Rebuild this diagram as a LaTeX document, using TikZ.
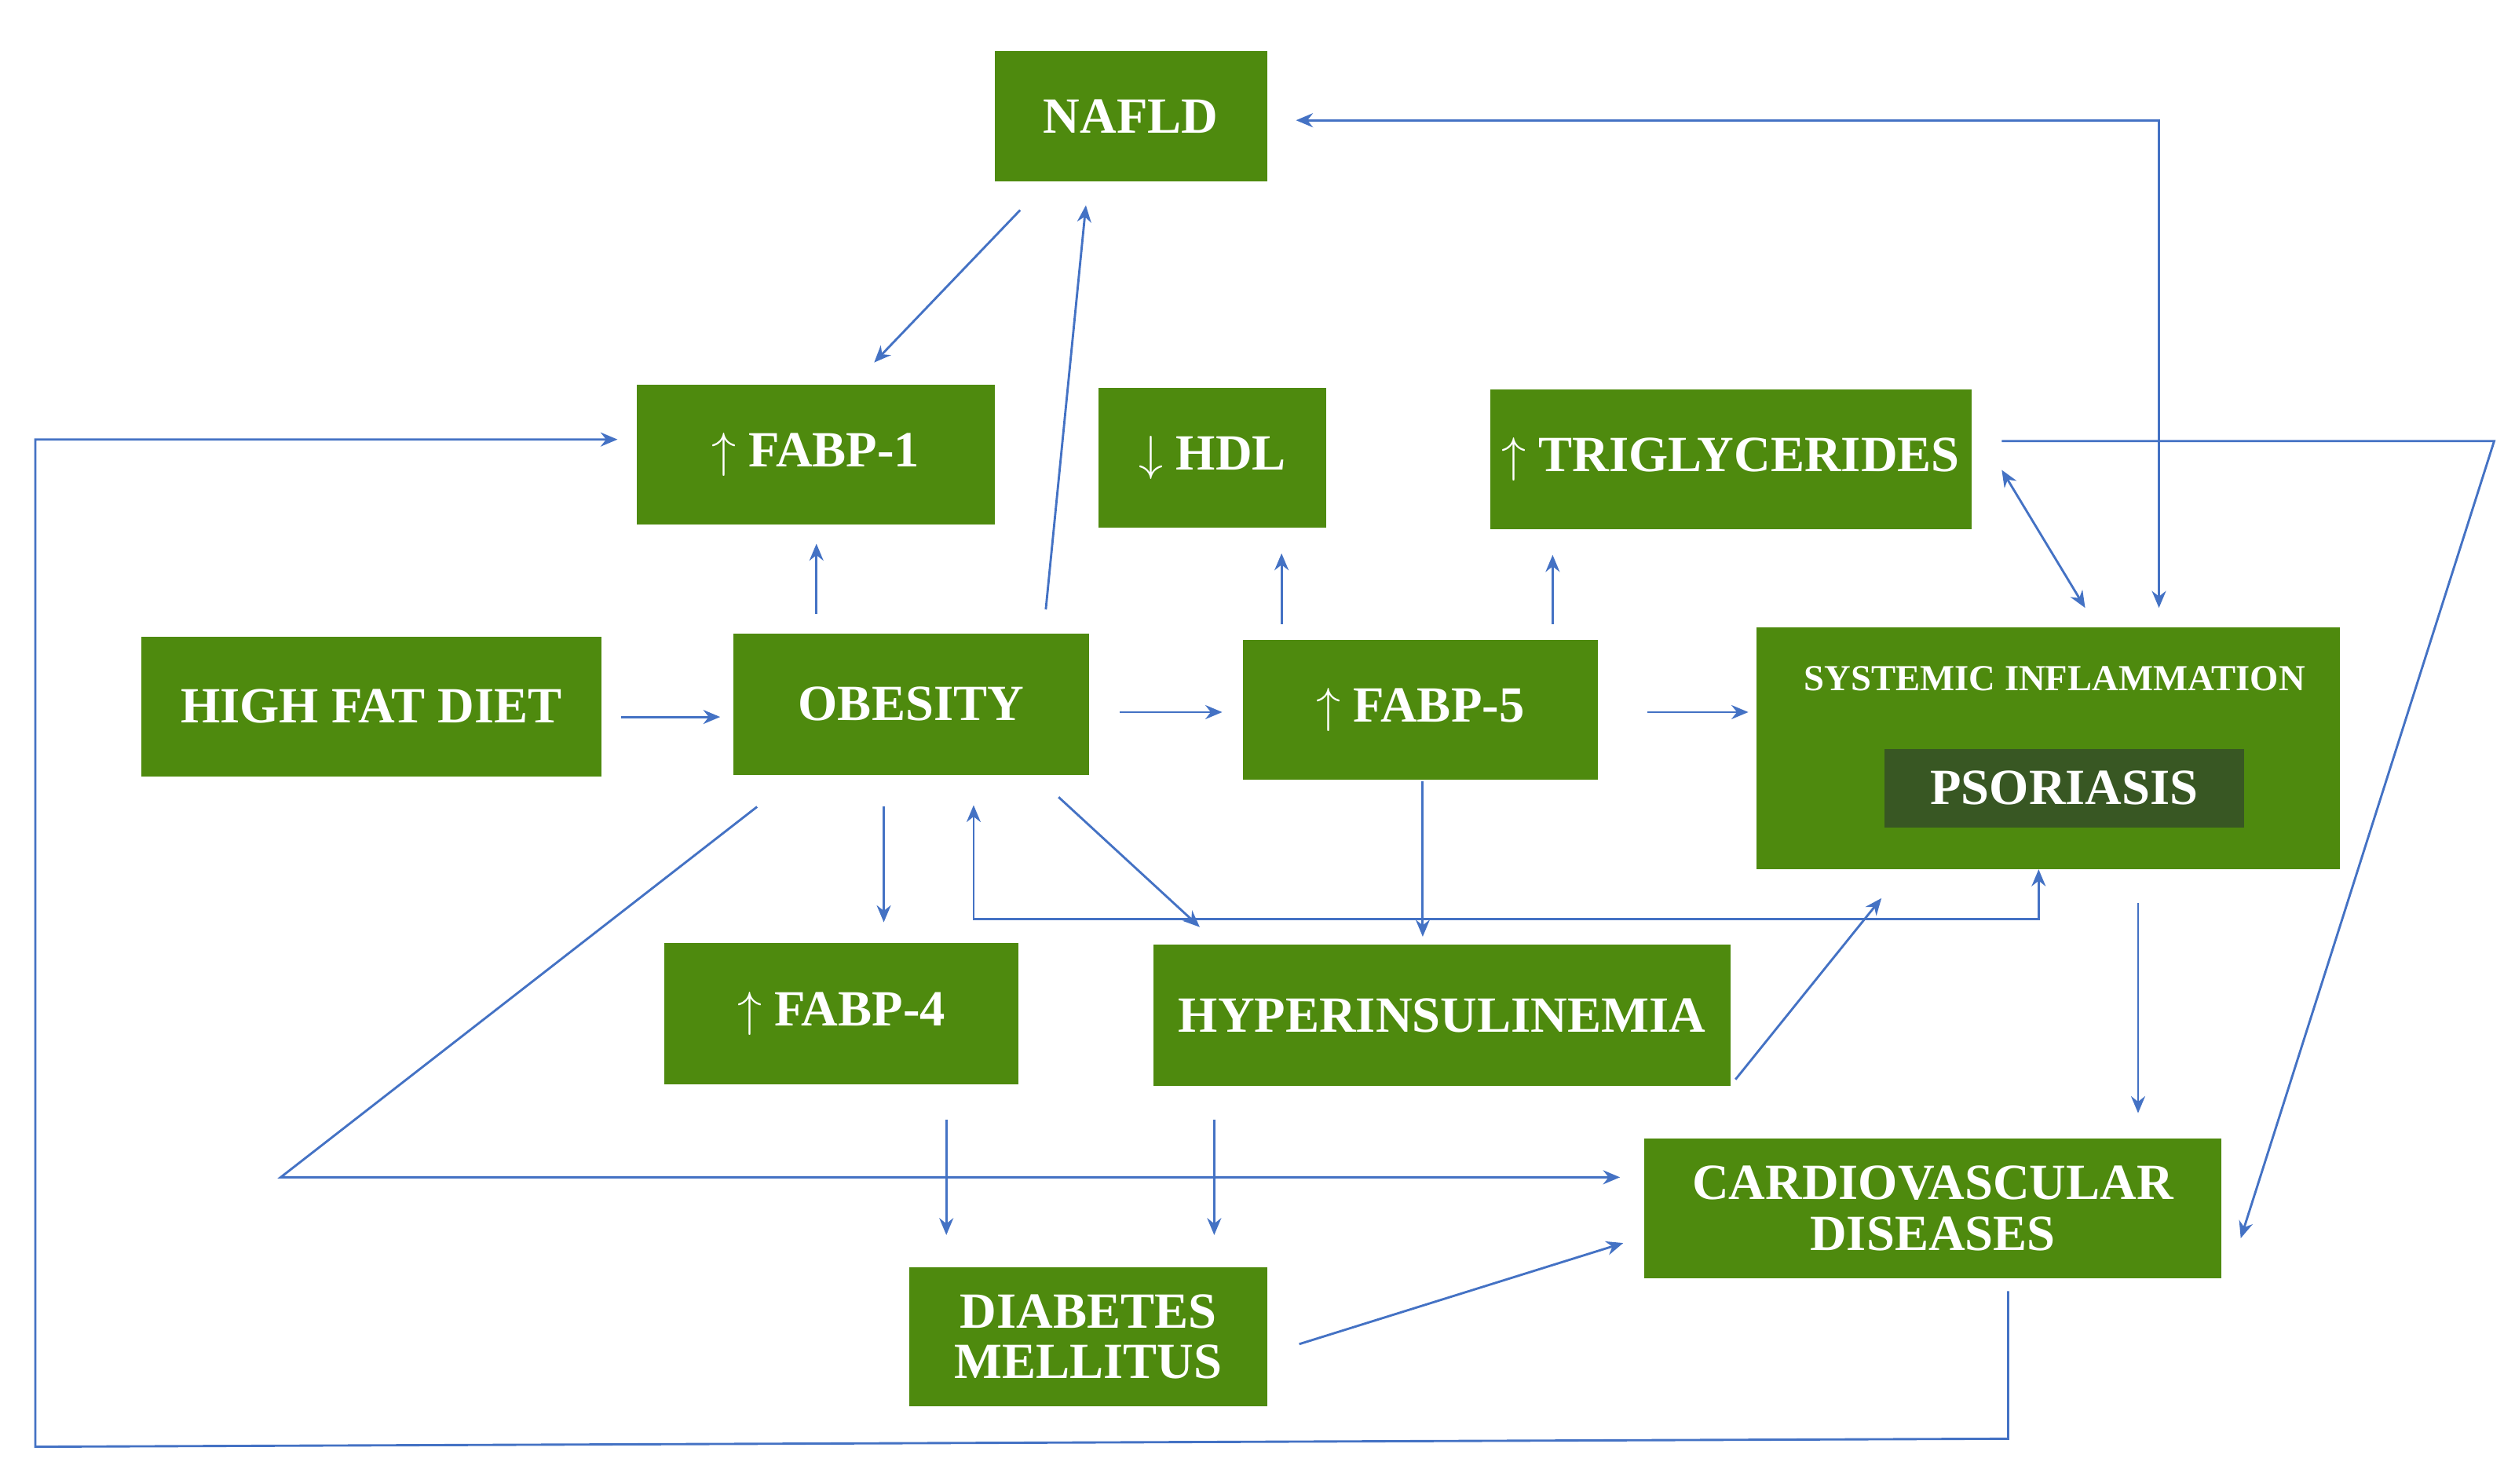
\documentclass[tikz,border=0pt]{standalone}
\usepackage{fontspec}
\setmainfont{Liberation Serif}
\usetikzlibrary{arrows.meta}
\definecolor{gbox}{HTML}{4E8A0E}
\definecolor{dbox}{HTML}{385723}
\definecolor{arr}{HTML}{4472C4}
\begin{document}
\begin{tikzpicture}[x=0.02cm,y=-0.02cm,
  bx/.style={fill=gbox,draw=none,text=white,font=\bfseries\fontsize{18}{20}\selectfont,align=center},
  ar/.style={draw=arr,line width=0.8pt,-{Stealth[length=6pt,width=5pt]}},
  ar2/.style={draw=arr,line width=0.8pt,{Stealth[length=6pt,width=5pt]}-{Stealth[length=6pt,width=5pt]}},
  ln/.style={draw=arr,line width=0.8pt}]
\useasboundingbox (0,0) rectangle (1568,925);
\newcommand{\bxx}[6]{\fill[gbox] (#1,#2) rectangle (#3,#4); \node[bx] (#5) at ({(#1+#3)/2},{(#2+#4)/2}) {#6};}
\bxx{620}{32}{790}{113}{nafld}{NAFLD}
\bxx{397}{240}{620}{327}{f1}{$\uparrow$ FABP-1}
\bxx{685}{242}{827}{329}{hdl}{$\downarrow$ HDL}
\bxx{929}{243}{1229}{330}{tg}{$\uparrow$ TRIGLYCERIDES}
\bxx{88}{397}{375}{484}{hfd}{HIGH FAT DIET}
\bxx{457}{395}{679}{483}{ob}{OBESITY}
\bxx{775}{399}{996}{486}{f5}{$\uparrow$ FABP-5}
\fill[gbox] (1095,391) rectangle (1459,542);
\node[bx,font=\bfseries\fontsize{13}{15}\selectfont] (si) at (1281,423) {SYSTEMIC INFLAMMATION};
\fill[dbox] (1175,467) rectangle (1399,516);
\node[bx,fill=none] (ps) at (1287,491) {PSORIASIS};
\bxx{414}{588}{635}{676}{f4}{$\uparrow$ FABP-4}
\bxx{719}{589}{1079}{677}{hy}{HYPERINSULINEMIA}
\bxx{1025}{710}{1385}{797}{cv}{CARDIOVASCULAR\\[-2pt]DISEASES}
\bxx{567}{790}{790}{877}{dm}{DIABETES\\[-2pt]MELLITUS}
\draw[ar] (636,131) -- (545,226);
\draw[ar] (652,380) -- (677,128);
\draw[ar] (509,383) -- (509,339);
\draw[ar] (799,389) -- (799,345);
\draw[ar] (968,389) -- (968,346);
\draw[ar] (387,447) -- (449,447);
\draw[ar] (698,444) -- (762,444);
\draw[ar] (1027,444) -- (1090,444);
\draw[ar2] (1248,293) -- (1300,379);
\draw[ar2] (1346,379) -- (1346,75) -- (808,75);
\draw[ar] (1248,275) -- (1555,275) -- (1397,772);
\draw[ar] (1252,805) -- (1252,897) -- (22,902) -- (22,274) -- (385,274);
\draw[ar] (551,503) -- (551,575);
\draw[ar] (660,497) -- (748,578);
\draw[ar] (887,487) -- (887,584);
\draw[ar2] (607,502) -- (607,573) -- (1271,573) -- (1271,542);
\draw[ar] (1082,673) -- (1173,560);
\draw[ar] (1333,563) -- (1333,694);
\draw[ar] (472,503) -- (175,734) -- (1010,734);
\draw[ar] (590,698) -- (590,770);
\draw[ar] (757,698) -- (757,770);
\draw[ar] (810,838) -- (1012,775);
\end{tikzpicture}
\end{document}
